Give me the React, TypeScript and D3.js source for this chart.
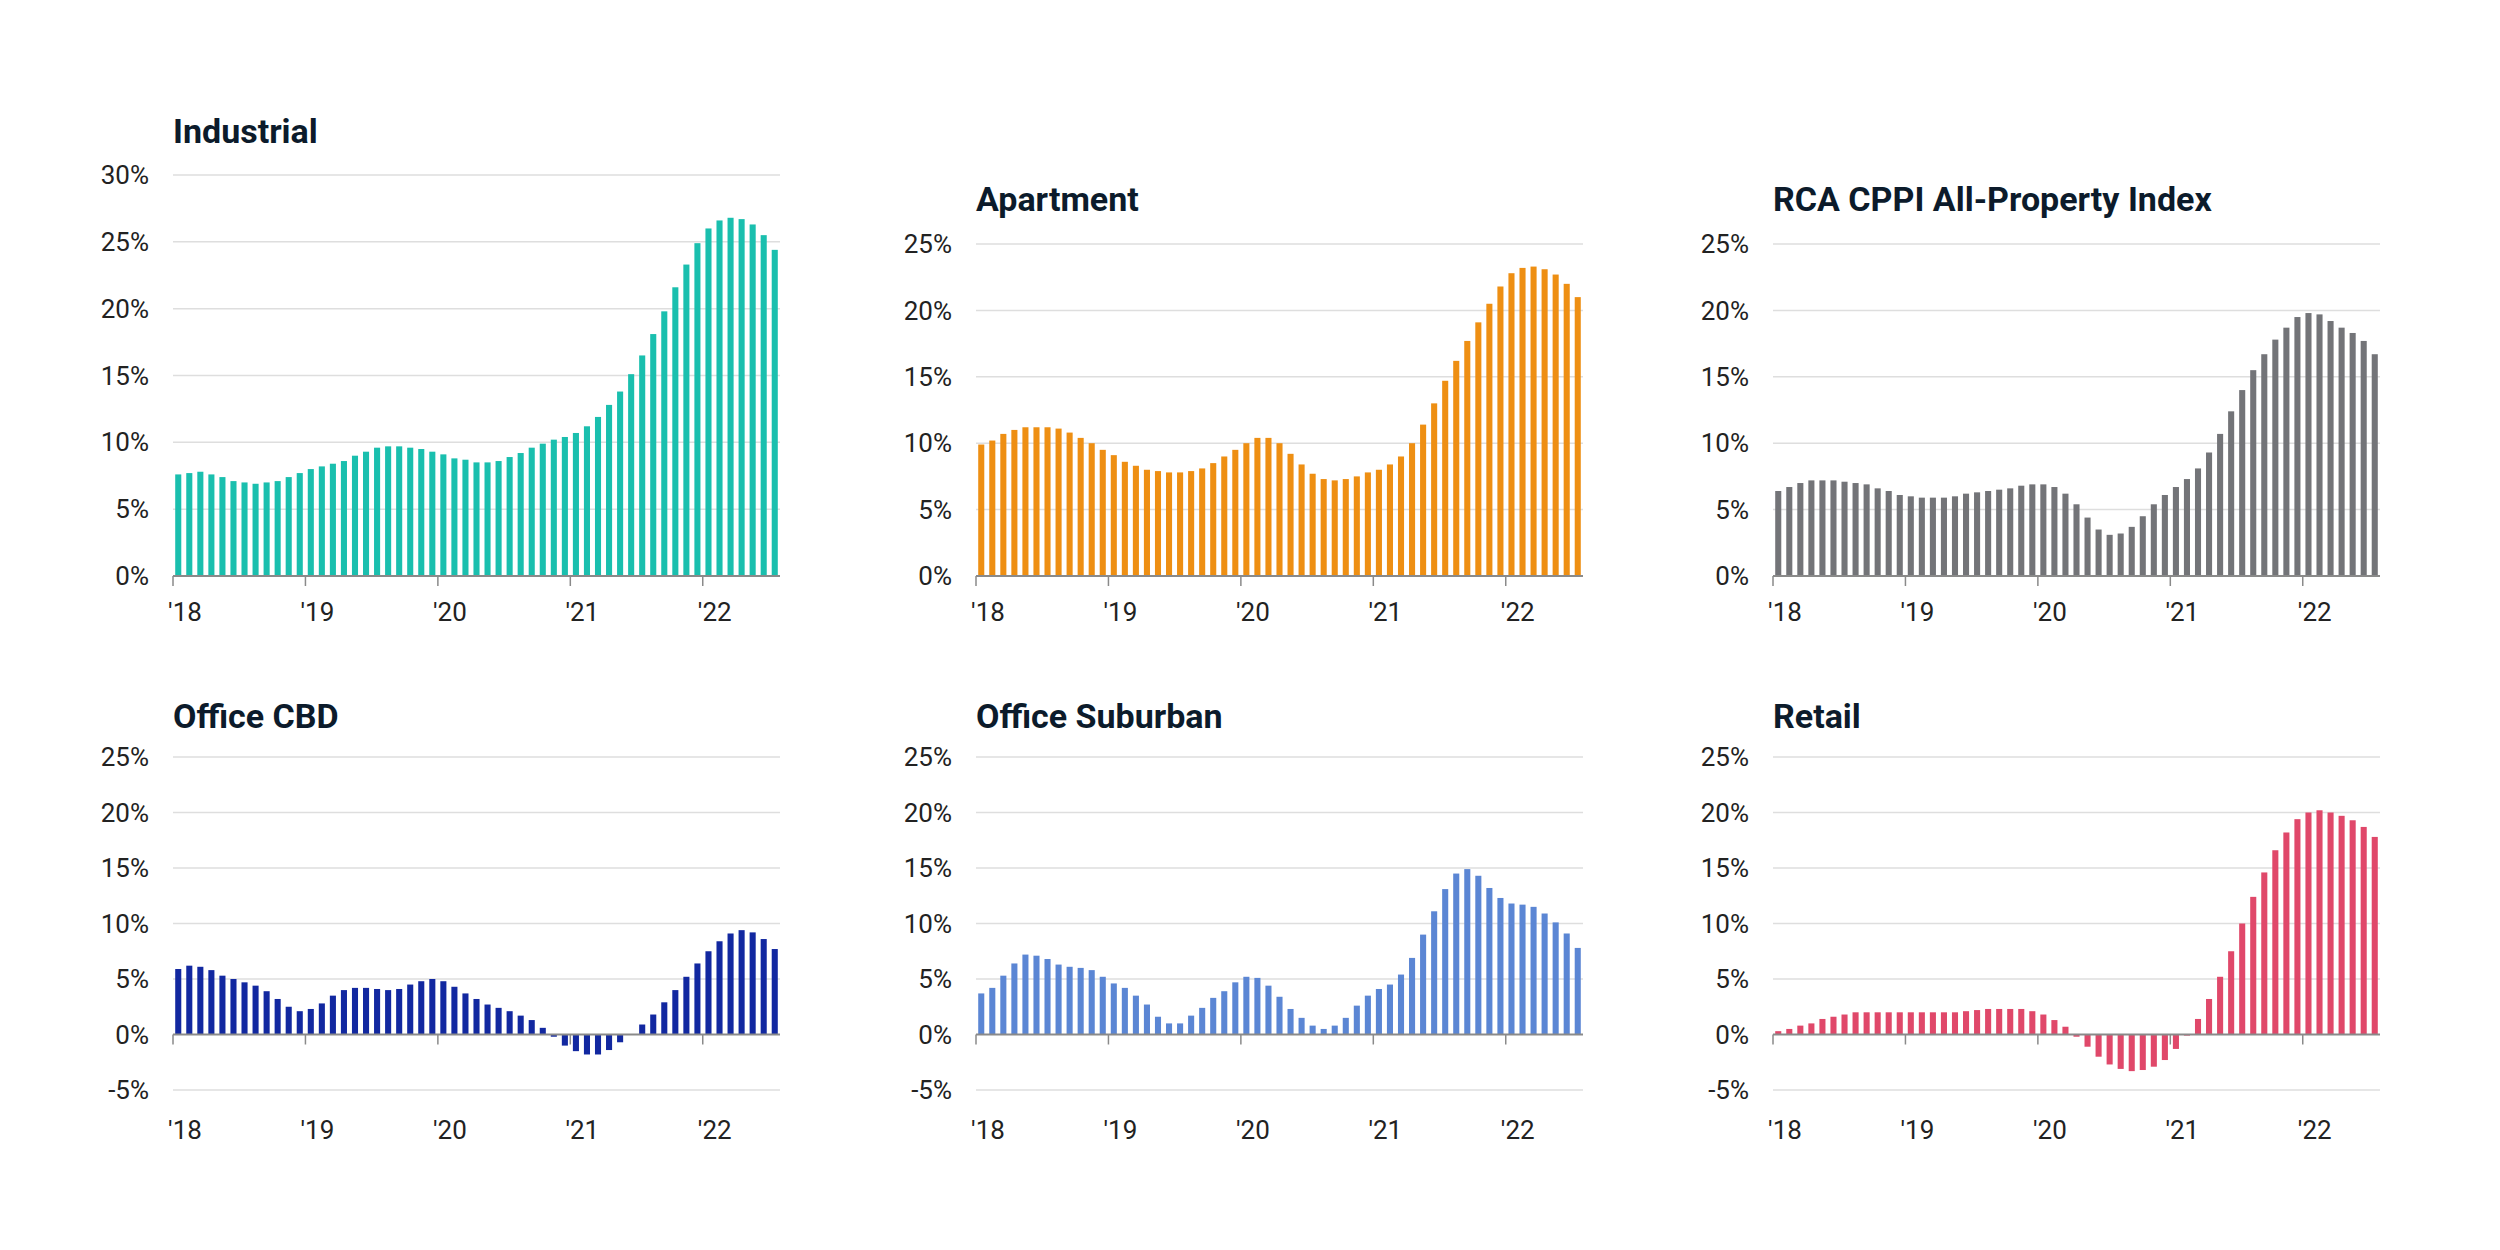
import * as d3 from "d3";
import React from "react";

// monthly, Jan 2018 .. Jul 2022 (year-over-year change, %)
const industrial = [
  7.6, 7.7, 7.8, 7.6, 7.4, 7.1, 7.0, 6.9, 7.0, 7.1, 7.4, 7.7,
  8.0, 8.2, 8.4, 8.6, 9.0, 9.3, 9.6, 9.7, 9.7, 9.6, 9.5, 9.3,
  9.1, 8.8, 8.7, 8.5, 8.5, 8.6, 8.9, 9.2, 9.6, 9.9, 10.2, 10.4,
  10.7, 11.2, 11.9, 12.8, 13.8, 15.1, 16.5, 18.1, 19.8, 21.6, 23.3, 24.9,
  26.0, 26.6, 26.8, 26.7, 26.3, 25.5, 24.4,
];
const apartment = [
  9.9, 10.2, 10.7, 11.0, 11.2, 11.2, 11.2, 11.1, 10.8, 10.4, 10.0, 9.5,
  9.1, 8.6, 8.3, 8.0, 7.9, 7.8, 7.8, 7.9, 8.1, 8.5, 9.0, 9.5,
  10.0, 10.4, 10.4, 10.0, 9.2, 8.4, 7.7, 7.3, 7.2, 7.3, 7.5, 7.8,
  8.0, 8.4, 9.0, 10.0, 11.4, 13.0, 14.7, 16.2, 17.7, 19.1, 20.5, 21.8,
  22.8, 23.2, 23.3, 23.1, 22.7, 22.0, 21.0,
];
const allProperty = [
  6.4, 6.7, 7.0, 7.2, 7.2, 7.2, 7.1, 7.0, 6.9, 6.6, 6.4, 6.1,
  6.0, 5.9, 5.9, 5.9, 6.0, 6.2, 6.3, 6.4, 6.5, 6.6, 6.8, 6.9,
  6.9, 6.7, 6.2, 5.4, 4.4, 3.5, 3.1, 3.2, 3.7, 4.5, 5.4, 6.1,
  6.7, 7.3, 8.1, 9.3, 10.7, 12.4, 14.0, 15.5, 16.7, 17.8, 18.7, 19.5,
  19.8, 19.7, 19.2, 18.7, 18.3, 17.7, 16.7,
];
const officeCbd = [
  5.9, 6.2, 6.1, 5.8, 5.3, 5.0, 4.7, 4.4, 3.9, 3.2, 2.5, 2.1,
  2.3, 2.8, 3.5, 4.0, 4.2, 4.2, 4.1, 4.0, 4.1, 4.5, 4.8, 5.0,
  4.8, 4.3, 3.7, 3.2, 2.7, 2.4, 2.1, 1.7, 1.3, 0.6, -0.2, -1.0,
  -1.5, -1.8, -1.8, -1.4, -0.7, 0.0, 0.9, 1.8, 2.9, 4.0, 5.2, 6.4,
  7.5, 8.4, 9.1, 9.4, 9.2, 8.6, 7.7,
];
const officeSuburban = [
  3.7, 4.2, 5.3, 6.4, 7.2, 7.1, 6.8, 6.3, 6.1, 6.0, 5.8, 5.2,
  4.6, 4.2, 3.5, 2.7, 1.6, 1.0, 1.0, 1.7, 2.4, 3.3, 3.9, 4.7,
  5.2, 5.1, 4.4, 3.4, 2.3, 1.5, 0.8, 0.5, 0.8, 1.5, 2.6, 3.5,
  4.1, 4.5, 5.4, 6.9, 9.0, 11.1, 13.1, 14.5, 14.9, 14.3, 13.2, 12.3,
  11.8, 11.7, 11.5, 10.9, 10.1, 9.1, 7.8,
];
const retail = [
  0.3, 0.5, 0.8, 1.0, 1.4, 1.6, 1.8, 2.0, 2.0, 2.0, 2.0, 2.0,
  2.0, 2.0, 2.0, 2.0, 2.0, 2.1, 2.2, 2.3, 2.3, 2.3, 2.3, 2.1,
  1.8, 1.3, 0.7, -0.2, -1.1, -2.0, -2.7, -3.1, -3.3, -3.2, -2.9, -2.3,
  -1.3, -0.1, 1.4, 3.2, 5.2, 7.5, 10.0, 12.4, 14.6, 16.6, 18.2, 19.4,
  20.0, 20.2, 20.0, 19.7, 19.3, 18.7, 17.8,
];
const yearLabels = ["'18", "'19", "'20", "'21", "'22"];
const panels = [
  { title: "Industrial", values: industrial, color: "#1abfae", ticks: [0, 5, 10, 15, 20, 25, 30] },
  { title: "Apartment", values: apartment, color: "#ee8f13", ticks: [0, 5, 10, 15, 20, 25] },
  { title: "RCA CPPI All-Property Index", values: allProperty, color: "#737478", ticks: [0, 5, 10, 15, 20, 25] },
  { title: "Office CBD", values: officeCbd, color: "#1228a0", ticks: [-5, 0, 5, 10, 15, 20, 25] },
  { title: "Office Suburban", values: officeSuburban, color: "#5b86d4", ticks: [-5, 0, 5, 10, 15, 20, 25] },
  { title: "Retail", values: retail, color: "#e0486a", ticks: [-5, 0, 5, 10, 15, 20, 25] },
];

const font = "Roboto, 'Noto Sans', sans-serif";
const colX = [173, 976, 1773];
const plotW = 607;

function Panel({ p, left, top, bottom, titleY, labelY }) {
  const months = d3.range(p.values.length);
  const x = d3.scaleBand(months, [left, left + plotW]).paddingInner(0.45).paddingOuter(0.2);
  const step = x.step();
  const y = d3.scaleLinear([d3.min(p.ticks), d3.max(p.ticks)], [bottom, top]);
  const yearX = (i) => left + i * 12 * (plotW / p.values.length);
  return (
    <g>
      <text x={left} y={titleY} fontSize={34} fontWeight="bold" fill="#0c1b2b" fontFamily={font}>
        {p.title}
      </text>
      {p.ticks.map((t) => (
        <g key={t}>
          {t !== 0 && (
            <line x1={left} x2={left + plotW} y1={y(t)} y2={y(t)} stroke="#dedede" strokeWidth={1.5} />
          )}
          <text x={left - 24} y={y(t)} dy="0.35em" textAnchor="end" fontSize={26} fill="#222" fontFamily={font}>
            {t}%
          </text>
        </g>
      ))}
      {p.values.map((v, i) => (
        <rect
          key={i}
          x={x(i)}
          width={x.bandwidth()}
          y={y(Math.max(v, 0))}
          height={Math.abs(y(v) - y(0))}
          fill={p.color}
        />
      ))}
      <line x1={left} x2={left + plotW} y1={y(0)} y2={y(0)} stroke="#8a8a8a" strokeWidth={2} />
      {yearLabels.map((l, i) => (
        <g key={l}>
          <line x1={yearX(i)} x2={yearX(i)} y1={y(0)} y2={y(0) + 10} stroke="#8a8a8a" strokeWidth={1.5} />
          <text x={yearX(i) + 12} y={labelY} dy="0.35em" textAnchor="middle" fontSize={26} fill="#222" fontFamily={font}>
            {l}
          </text>
        </g>
      ))}
    </g>
  );
}

export default function App() {
  return (
    <svg width={2500} height={1250} style={{ display: "block", margin: -8 }}>
      <rect width={2500} height={1250} fill="#fff" />
      <Panel p={panels[0]} left={colX[0]} top={175} bottom={576} titleY={143} labelY={612} />
      <Panel p={panels[1]} left={colX[1]} top={244} bottom={576} titleY={211} labelY={612} />
      <Panel p={panels[2]} left={colX[2]} top={244} bottom={576} titleY={211} labelY={612} />
      <Panel p={panels[3]} left={colX[0]} top={757} bottom={1090} titleY={728} labelY={1130} />
      <Panel p={panels[4]} left={colX[1]} top={757} bottom={1090} titleY={728} labelY={1130} />
      <Panel p={panels[5]} left={colX[2]} top={757} bottom={1090} titleY={728} labelY={1130} />
    </svg>
  );
}
